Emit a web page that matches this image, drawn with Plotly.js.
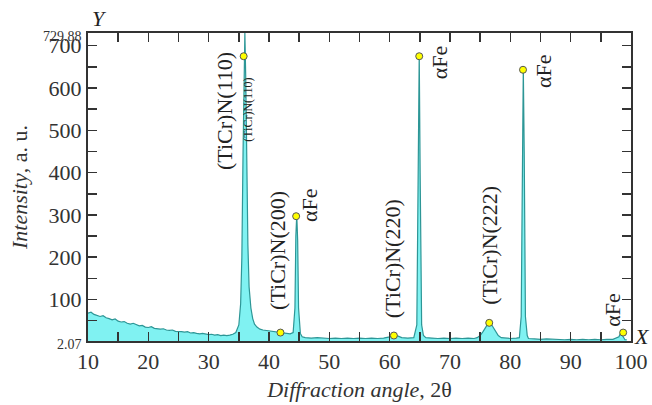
<!DOCTYPE html>
<html><head><meta charset="utf-8">
<script src="https://cdn.plot.ly/plotly-3.0.1.min.js"></script>
<style>html,body{margin:0;padding:0;background:#fff}#chart{width:652px;height:405px}</style>
</head><body><div id="chart"></div>
<script>
const angle = [10,10.5,11,11.5,12,12.5,13,13.5,14,14.5,15,15.5,16,16.5,17,17.5,18,18.5,19,19.5,20,20.5,21,21.5,22,22.5,23,23.5,24,24.5,25,25.5,26,26.5,27,27.5,28,28.5,29,29.5,30,30.5,31,31.5,32,32.5,33,33.5,34,34.5,35,35.3,35.5,35.7,35.85,36.0,36.15,36.3,36.5,36.7,37,37.3,37.6,38,38.5,39,39.5,40,40.5,41,41.5,42,42.5,43,43.5,44,44.3,44.45,44.6,44.75,44.9,45.2,45.5,46,47,48,49,50,51,52,53,54,55,56,57,58,59,59.5,60,60.5,61,61.5,62,63,64,64.5,64.75,64.9,65.05,65.3,65.6,66,67,68,69,70,71,72,73,74,74.5,75,75.5,76,76.5,77,77.5,78,78.5,79,80,81,81.5,81.8,82.0,82.15,82.3,82.5,82.8,83,84,85,86,87,88,89,90,91,92,93,94,95,96,97,98,98.4,98.7,99.0,99.3,100];
const intensity = [68,70,65,63,60,62,57,55,52,54,49,47,48,44,42,44,40,38,39,35,34,36,32,31,30,31,28,27,28,25,25,24,23,24,21,22,20,19,20,18,17,18,16,17,15,16,15,16,18,22,40,90,200,450,650,729.88,620,420,230,130,80,55,42,35,30,28,27,25,24,24,23,22,21,20,19,22,80,250,300,240,80,20,12,10,9,10,9,8,9,8,9,8,9,8,9,8,9,10,12,15,16,13,10,9,10,40,400,680,400,40,15,10,9,8,9,8,9,8,9,8,10,15,25,38,48,38,25,15,10,9,8,9,10,60,450,648,450,60,15,8,7,6,7,6,6,5,6,5,6,5,6,5,6,6,12,25,12,5,5];
// Peak label markers
const markAngle = [35.8,41.9,44.5,60.7,64.9,76.5,82.1,98.7];
const markInt = [675,22,297,15,675,45,643,22];
// Peak labels
const labText = ['(TiCr)N(110)','(TiCr)N(110)','(TiCr)N(200)','αFe','(TiCr)N(220)','αFe','(TiCr)N(222)','αFe','αFe'];
const labX = [32.5,36.5,41.5,46.6,60.6,68.2,76.6,85.4,96.8];
const labY = [545,548,215,323,196,661,229,640,75];
const labSize = [22,12,22,22,22,22,22,22,22];
// Axis ticks
const xTickVals = [10,15,20,25,30,35,40,45,50,55,60,65,70,75,80,85,90,95,100];
const xTickText = ['10','','20','','30','','40','','50','','60','','70','','80','','90','','100'];
const yTickVals = [2.07,50,100,150,200,250,300,350,400,450,500,550,600,650,700,729.88];
const yTickText = ['<span style="font-size:14px">2.07</span>','','100','','200','','300','','400','','500','','600','','700','<span style="font-size:14px">729.88</span>'];

const FAM = 'Liberation Serif';
const axisCol = '#333';

const traces = [
  {x: angle, y: intensity, type: 'scatter', mode: 'lines', fill: 'tozeroy',
   fillcolor: 'rgb(128,242,242)', line: {color: 'rgb(45,150,150)', width: 1.2}, hoverinfo: 'skip'},
  {x: markAngle, y: markInt, type: 'scatter', mode: 'markers',
   marker: {color: '#ffff00', size: 7, line: {color: '#555', width: 1}}, hoverinfo: 'skip'}
];

const annotations = labText.map((t, i) => ({
  x: labX[i], y: labY[i], xref: 'x', yref: 'y', text: t, showarrow: false,
  textangle: -90, xanchor: 'center', yanchor: 'middle',
  font: {family: FAM, size: labSize[i], color: '#222'}
}));
annotations.push({x: 0.0, y: 1.0, xref: 'paper', yref: 'paper', xshift: 2, yshift: 0,
  text: '<i>Y</i>', showarrow: false, xanchor: 'left', yanchor: 'bottom',
  font: {family: FAM, size: 22, color: '#222'}});
annotations.push({x: 1.0, y: 0.0, xref: 'paper', yref: 'paper', xshift: 1, yshift: 5,
  text: '<i>X</i>', showarrow: false, xanchor: 'left', yanchor: 'middle',
  font: {family: FAM, size: 22, color: '#222'}});

const layout = {
  width: 652, height: 405,
  margin: {l: 88, r: 21, t: 33, b: 64},
  paper_bgcolor: '#fff', plot_bgcolor: '#fff',
  showlegend: false,
  font: {family: FAM, color: '#333'},
  xaxis: {range: [10, 100], tickvals: xTickVals, ticktext: xTickText,
    ticks: 'inside', ticklen: 9, tickwidth: 1.5, tickcolor: axisCol,
    showline: true, linewidth: 2, linecolor: axisCol, mirror: 'ticks',
    showgrid: false, zeroline: false,
    tickfont: {family: FAM, size: 22, color: '#333'},
    title: {text: '<i>Diffraction angle</i>, 2θ', font: {family: FAM, size: 22, color: '#333'}, standoff: 8}},
  yaxis: {range: [2.07, 729.88], tickvals: yTickVals, ticktext: yTickText,
    ticks: 'inside', ticklen: 9, tickwidth: 1.5, tickcolor: axisCol,
    showline: true, linewidth: 2, linecolor: axisCol, mirror: 'ticks',
    showgrid: false, zeroline: false,
    tickfont: {family: FAM, size: 22, color: '#333'},
    title: {text: '<i>Intensity</i>, a. u.', font: {family: FAM, size: 22, color: '#333'}, standoff: 9}},
  annotations: annotations
};

Plotly.newPlot('chart', traces, layout, {displayModeBar: false, staticPlot: true});
</script>
</body></html>
